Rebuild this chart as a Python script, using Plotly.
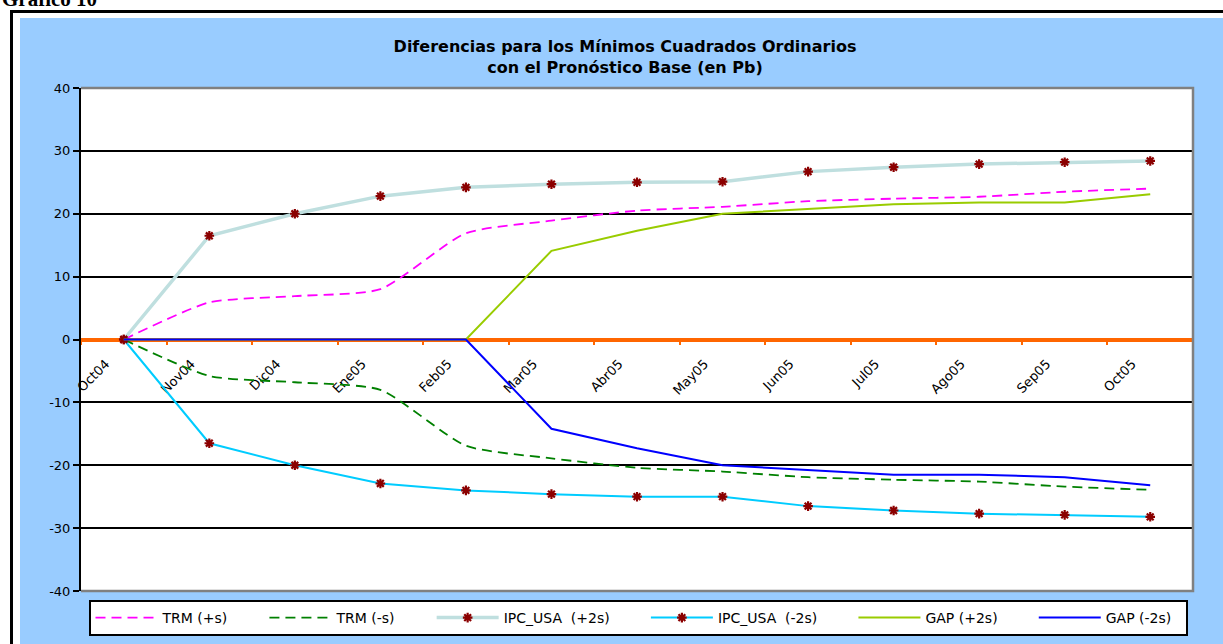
import plotly.graph_objects as go

# ---------------- data ----------------
categories = ["Oct04", "Nov04", "Dic04", "Ene05", "Feb05", "Mar05", "Abr05",
              "May05", "Jun05", "Jul05", "Ago05", "Sep05", "Oct05"]
trm_pos = [0, 5.9, 6.9, 8.0, 16.9, 18.9, 20.5, 21.1, 22.0, 22.4, 22.7, 23.5, 24.0]
trm_neg = [0, -5.8, -6.8, -8.0, -16.9, -18.9, -20.4, -21.0, -21.9, -22.3, -22.6, -23.4, -23.9]
ipc_pos = [0, 16.5, 20.0, 22.8, 24.2, 24.7, 25.0, 25.1, 26.7, 27.4, 27.9, 28.2, 28.4]
ipc_neg = [0, -16.5, -20.0, -22.9, -24.0, -24.6, -25.0, -25.0, -26.5, -27.2, -27.7, -27.9, -28.2]
gap_pos = [0, 0, 0, 0, 0, 14.1, 17.3, 20.0, 20.8, 21.5, 21.8, 21.8, 23.1]
gap_neg = [0, 0, 0, 0, 0, -14.2, -17.3, -20.0, -20.8, -21.5, -21.5, -21.9, -23.2]
y_ticks = [-40, -30, -20, -10, 0, 10, 20, 30, 40]
series_names = ["TRM (+s)", "TRM (-s)", "IPC_USA\u00a0\u00a0(+2s)", "IPC_USA\u00a0\u00a0(-2s)",
                "GAP (+2s)", "GAP (-2s)"]

title_text = "Diferencias para los Mínimos Cuadrados Ordinarios<br>con el Pronóstico Base (en Pb)"
corner_text = "Gráfico 10"

# ---------------- geometry ----------------
W, H = 1223, 644
L, R, T, B = 81, 30, 88, 53
PW, PH = W - L - R, H - T - B


def px2x(p):
    return (p - L) / PW


def py2y(p):
    return (H - B - p) / PH


FONT = "DejaVu Sans"
DARKRED = "#8B0000"
PAD = "\u00a0" * 7  # spacing after each legend entry
PAD_LAST = "\u00a0" * 2


def legend_name(i):
    return series_names[i] + (PAD if i < len(series_names) - 1 else PAD_LAST)


fig = go.Figure()

fig.add_trace(go.Scatter(
    x=categories, y=trm_pos, name=legend_name(0), mode="lines",
    line=dict(color="#FF00FF", width=1.8, dash="10px,6px", shape="spline", smoothing=0.6)))
fig.add_trace(go.Scatter(
    x=categories, y=trm_neg, name=legend_name(1), mode="lines",
    line=dict(color="#008000", width=1.8, dash="10px,6px", shape="spline", smoothing=0.6)))
fig.add_trace(go.Scatter(
    x=categories, y=ipc_pos, name=legend_name(2), mode="lines+markers",
    line=dict(color="#BFDFDF", width=3.5),
    marker=dict(symbol="asterisk-open", size=8, color=DARKRED,
                line=dict(color=DARKRED, width=2.2))))
fig.add_trace(go.Scatter(
    x=categories, y=ipc_neg, name=legend_name(3), mode="lines+markers",
    line=dict(color="#00CCFF", width=2),
    marker=dict(symbol="asterisk-open", size=8, color=DARKRED,
                line=dict(color=DARKRED, width=2.2))))
fig.add_trace(go.Scatter(
    x=categories, y=gap_pos, name=legend_name(4), mode="lines",
    line=dict(color="#99CC00", width=2)))
fig.add_trace(go.Scatter(
    x=categories, y=gap_neg, name=legend_name(5), mode="lines",
    line=dict(color="#0000FF", width=2)))

shapes = [
    # white outer margin (left and top)
    dict(type="rect", xref="paper", yref="paper",
         x0=px2x(-5), x1=px2x(20), y0=py2y(660), y1=py2y(-5),
         fillcolor="white", line=dict(width=0), layer="below"),
    dict(type="rect", xref="paper", yref="paper",
         x0=px2x(-5), x1=px2x(1240), y0=py2y(18), y1=py2y(-5),
         fillcolor="white", line=dict(width=0), layer="below"),
    # black frame
    dict(type="line", xref="paper", yref="paper",
         x0=px2x(11.5), x1=px2x(11.5), y0=py2y(10), y1=py2y(660),
         line=dict(color="black", width=3)),
    dict(type="line", xref="paper", yref="paper",
         x0=px2x(10), x1=px2x(1240), y0=py2y(11.5), y1=py2y(11.5),
         line=dict(color="black", width=3)),
    # plot area border (top, right, bottom) in gray
    dict(type="path", xref="paper", yref="paper",
         path="M 0 1 L 1 1 L 1 0 L 0 0",
         line=dict(color="#808080", width=2.5)),
]

fig.update_layout(
    width=W, height=H, autosize=False,
    margin=dict(l=L, r=R, t=T, b=B, pad=0, autoexpand=False),
    paper_bgcolor="#99CCFF", plot_bgcolor="white",
    font=dict(family=FONT, color="black", size=13),
    title=dict(text=title_text, x=625 / W, xanchor="center",
               y=1 - 52 / H, yanchor="top", xref="container", yref="container",
               font=dict(family=FONT, size=16, color="black", weight="bold")),
    showlegend=True,
    legend=dict(orientation="h", x=638 / W, xanchor="center", xref="container",
                y=1 - 600 / H, yanchor="top", yref="container",
                bgcolor="white", bordercolor="black", borderwidth=2,
                font=dict(family=FONT, size=14, color="black"),
                itemwidth=62, tracegroupgap=0),
    shapes=shapes,
    annotations=[dict(text="<b>" + corner_text + "</b>", xref="paper", yref="paper",
                      x=px2x(0), y=py2y(13), xanchor="left", yanchor="bottom",
                      showarrow=False,
                      font=dict(family="Liberation Serif", size=21, color="black"))],
)

fig.update_yaxes(
    range=[-40, 40], tickvals=y_ticks, ticktext=[str(v) for v in y_ticks],
    showgrid=True, gridcolor="black", gridwidth=1.5,
    zeroline=False, showline=True, linecolor="black", linewidth=2,
    ticks="outside", ticklen=6, tickwidth=1.5, tickcolor="black",
    tickfont=dict(family=FONT, size=13, color="black"))

fig.update_xaxes(
    type="category", range=[-0.5, len(categories) - 0.5],
    anchor="free", position=0.5,
    showgrid=False, zeroline=False,
    showline=True, linecolor="#FF6600", linewidth=3.5,
    ticks="outside", tickson="boundaries", ticklen=4, tickwidth=2, tickcolor="#FF6600",
    tickangle=-45, tickfont=dict(family=FONT, size=13, color="black"),
    ticklabelshift=-18, ticklabelstandoff=10,
    layer="below traces")

fig.write_html("out.html", include_plotlyjs=True,
               config={"displayModeBar": False},
               post_script="document.body.style.margin='0';document.body.style.overflow='hidden';")
